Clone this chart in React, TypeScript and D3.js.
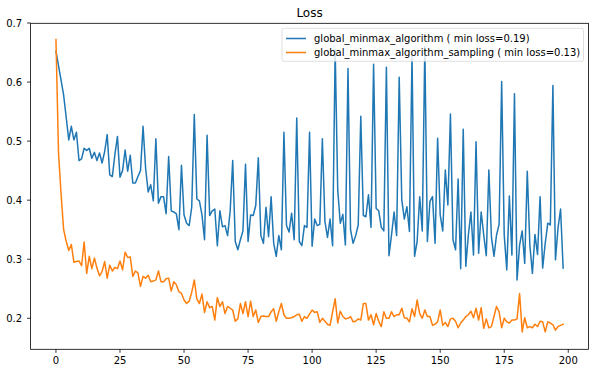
import React from "react";
import * as d3 from "d3";

// loss per epoch
const lossMinmax = [
  0.652, 0.628, 0.603, 0.578, 0.54, 0.502, 0.525, 0.502, 0.515, 0.467,
  0.47, 0.488, 0.484, 0.488, 0.471, 0.481, 0.467, 0.48, 0.463, 0.482,
  0.511, 0.443, 0.44, 0.477, 0.508, 0.439, 0.45, 0.485, 0.449, 0.476,
  0.429, 0.429, 0.44, 0.45, 0.525, 0.454, 0.414, 0.426, 0.399, 0.504,
  0.395, 0.406, 0.406, 0.377, 0.474, 0.382, 0.38, 0.377, 0.35, 0.459,
  0.375, 0.361, 0.357, 0.388, 0.545, 0.402, 0.399, 0.375, 0.333, 0.51,
  0.374, 0.382, 0.385, 0.323, 0.382, 0.355, 0.357, 0.34, 0.381, 0.467,
  0.33, 0.316, 0.333, 0.348, 0.461, 0.33, 0.375, 0.374, 0.391, 0.472,
  0.34, 0.327, 0.388, 0.338, 0.406, 0.327, 0.305, 0.34, 0.316, 0.515,
  0.357, 0.346, 0.378, 0.333, 0.539, 0.33, 0.323, 0.357, 0.354, 0.515,
  0.322, 0.368, 0.357, 0.359, 0.504, 0.364, 0.337, 0.368, 0.323, 0.655,
  0.417, 0.361, 0.376, 0.324, 0.623, 0.35, 0.327, 0.34, 0.358, 0.542,
  0.374, 0.372, 0.409, 0.354, 0.63, 0.386, 0.382, 0.354, 0.348, 0.625,
  0.306, 0.341, 0.38, 0.34, 0.608, 0.401, 0.368, 0.389, 0.347, 0.645,
  0.305, 0.33, 0.406, 0.348, 0.66, 0.33, 0.398, 0.406, 0.327, 0.505,
  0.375, 0.348, 0.451, 0.392, 0.546, 0.333, 0.316, 0.436, 0.284, 0.52,
  0.288, 0.341, 0.38, 0.307, 0.499, 0.31, 0.38, 0.341, 0.306, 0.451,
  0.338, 0.305, 0.341, 0.359, 0.601, 0.341, 0.282, 0.407, 0.307, 0.58,
  0.265, 0.324, 0.348, 0.293, 0.449, 0.324, 0.276, 0.342, 0.308, 0.406,
  0.285, 0.327, 0.361, 0.358, 0.594, 0.299, 0.353, 0.385, 0.285,
];

const lossSampling = [
  0.672, 0.48, 0.41, 0.35, 0.33, 0.315, 0.325, 0.295, 0.296, 0.297,
  0.289, 0.329, 0.276, 0.305, 0.284, 0.302, 0.285, 0.272, 0.279, 0.296,
  0.268, 0.29, 0.28, 0.286, 0.284, 0.297, 0.282, 0.312, 0.303, 0.304,
  0.271, 0.28, 0.277, 0.254, 0.271, 0.268, 0.273, 0.262, 0.263, 0.265,
  0.28, 0.262, 0.262, 0.267, 0.268, 0.246, 0.262, 0.257, 0.245, 0.242,
  0.231, 0.225, 0.229, 0.244, 0.265, 0.233, 0.225, 0.241, 0.21, 0.228,
  0.218, 0.22, 0.197, 0.235, 0.22, 0.228, 0.208, 0.22, 0.217, 0.214,
  0.195, 0.199, 0.225, 0.208, 0.228, 0.203, 0.229, 0.203, 0.214, 0.193,
  0.203, 0.204, 0.203, 0.203, 0.211, 0.216, 0.195, 0.211, 0.225, 0.206,
  0.2, 0.2, 0.201, 0.203, 0.206, 0.207, 0.195, 0.203, 0.2, 0.207,
  0.214, 0.21, 0.211, 0.193, 0.2, 0.195, 0.19, 0.188, 0.211, 0.233,
  0.192, 0.212, 0.203, 0.199, 0.2, 0.203, 0.194, 0.195, 0.199, 0.197,
  0.225, 0.225, 0.197, 0.206, 0.189, 0.208, 0.195, 0.186, 0.211, 0.2,
  0.2, 0.211, 0.203, 0.206, 0.206, 0.217, 0.201, 0.2, 0.194, 0.216,
  0.203, 0.231, 0.208, 0.2, 0.214, 0.203, 0.203, 0.188, 0.19, 0.194,
  0.214, 0.188, 0.193, 0.186, 0.199, 0.2, 0.195, 0.184, 0.192, 0.197,
  0.203, 0.206, 0.212, 0.201, 0.217, 0.197, 0.218, 0.183, 0.199, 0.184,
  0.186, 0.203, 0.22, 0.211, 0.184, 0.2, 0.194, 0.192, 0.197, 0.197,
  0.199, 0.242, 0.177, 0.201, 0.184, 0.186, 0.184, 0.19, 0.186, 0.195,
  0.194, 0.177, 0.194, 0.192, 0.189, 0.18, 0.186, 0.188, 0.19,
];

const seriesNames = [
  "global_minmax_algorithm ( min loss=0.19)",
  "global_minmax_algorithm_sampling ( min loss=0.13)",
];
const seriesColors = ["#1f77b4", "#ff7f0e"];
const xTicks = [0, 25, 50, 75, 100, 125, 150, 175, 200];
const yTicks = [0.2, 0.3, 0.4, 0.5, 0.6, 0.7];

const W = 595;
const H = 373;
const left = 30.6;
const right = 588.5;
const top = 23.3;
const bottom = 349.3;
const font = "'DejaVu Sans', sans-serif";

export default function App() {
  const n = lossMinmax.length;
  const x = d3.scaleLinear().domain([-0.05 * (n - 1), 1.05 * (n - 1)]).range([left, right]);
  const y = d3.scaleLinear().domain([0.1475, 0.6995]).range([bottom, top]);

  const line = d3
    .line<number>()
    .x((_, i) => x(i))
    .y((d) => y(d));

  const series = [lossMinmax, lossSampling];

  return (
    <svg
      width={W}
      height={H}
      style={{ position: "absolute", left: 0, top: 0, background: "#fff" }}
      fontFamily={font}
    >
      <defs>
        <clipPath id="plot">
          <rect x={left} y={top} width={right - left} height={bottom - top} />
        </clipPath>
      </defs>

      {series.map((s, k) => (
        <path
          key={k}
          d={line(s) ?? ""}
          fill="none"
          stroke={seriesColors[k]}
          strokeWidth={1.5}
          strokeLinejoin="round"
          strokeLinecap="square"
          clipPath="url(#plot)"
        />
      ))}

      {/* spines */}
      <rect
        x={left}
        y={top}
        width={right - left}
        height={bottom - top}
        fill="none"
        stroke="#000"
        strokeWidth={0.8}
      />

      {xTicks.map((t) => (
        <g key={t} transform={`translate(${x(t)},${bottom})`}>
          <line y2={3.5} stroke="#000" strokeWidth={0.8} />
          <text y={15} textAnchor="middle" fontSize={10} fill="#000">
            {t}
          </text>
        </g>
      ))}

      {yTicks.map((t) => (
        <g key={t} transform={`translate(${left},${y(t)})`}>
          <line x2={-3.5} stroke="#000" strokeWidth={0.8} />
          <text x={-8.5} dy="0.36em" textAnchor="end" fontSize={10} fill="#000">
            {t.toFixed(1)}
          </text>
        </g>
      ))}

      <text x={(left + right) / 2} y={17} textAnchor="middle" fontSize={12} fill="#000">
        Loss
      </text>

      {/* legend */}
      <g>
        <rect
          x={282}
          y={28.3}
          width={301.5}
          height={33}
          rx={2}
          fill="#fff"
          fillOpacity={0.8}
          stroke="#ccc"
          strokeOpacity={0.8}
          strokeWidth={0.8}
        />
        {seriesNames.map((name, k) => (
          <g key={name} transform={`translate(0,${38.5 + k * 14})`}>
            <line x1={286} x2={306} stroke={seriesColors[k]} strokeWidth={1.5} />
            <text x={314} dy="0.36em" fontSize={10} fill="#000">
              {name}
            </text>
          </g>
        ))}
      </g>
    </svg>
  );
}
